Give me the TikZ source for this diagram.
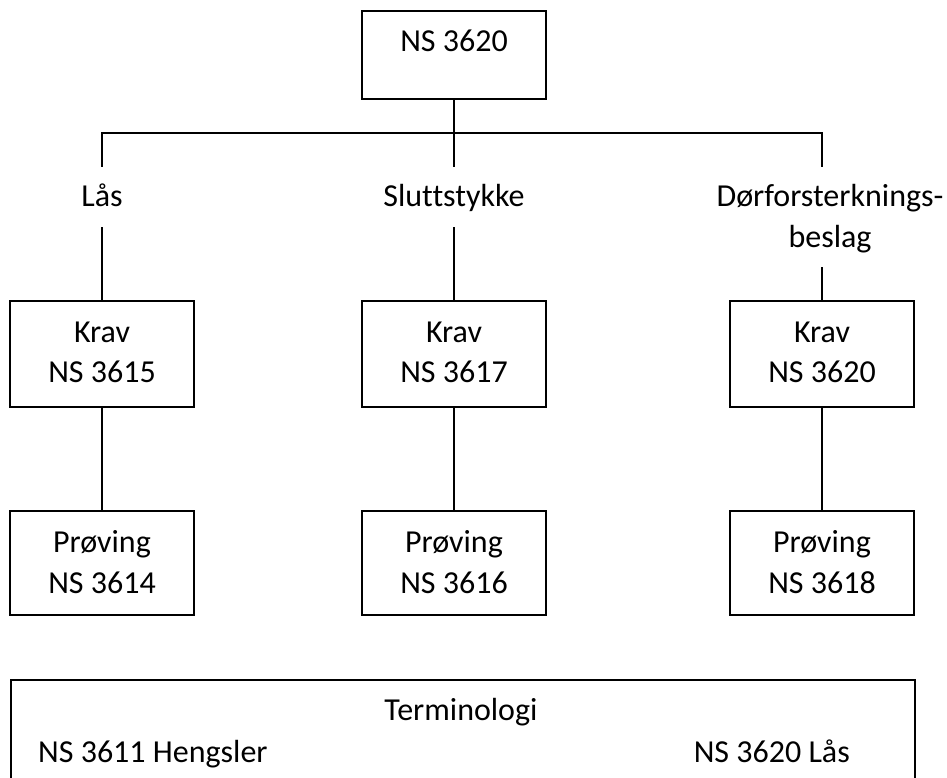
\documentclass[tikz,border=0pt]{standalone}
\usepackage{fontspec}
\setmainfont[Ligatures=NoCommon]{Carlito}
\begin{document}
\begin{tikzpicture}[x=1pt,y=-1pt,
  box/.style={draw=black,line width=1.5pt,rectangle,inner sep=0pt,minimum width=184pt},
  tbox/.style={box,minimum height=88pt},
  kbox/.style={box,minimum height=106pt},
  txt/.style={inner sep=0pt,anchor=base,font=\fontsize{32}{40}\selectfont},
  conn/.style={line width=1.4pt}]
\useasboundingbox (0,0) rectangle (947,778);
\clip (0,0) rectangle (947,778);
% top
\node[tbox] (top) at (454,55) {};
\node[txt] (toptxt) at (454,52) {NS 3620};
% column labels
\node[txt] (las) at (102,207) {Lås};
\node[txt] (slutt) at (454,207) {Sluttstykke};
\node[txt] (dor1) at (830,207) {Dørforsterknings-};
\node[txt] (dor2) at (830,247) {beslag};
% Krav boxes
\node[kbox] (k1) at (102,354) {};
\node[kbox] (k2) at (454,354) {};
\node[kbox] (k3) at (822,354) {};
\node[txt] (k1a) at (102,342) {Krav};
\node[txt] (k1b) at (102,382) {NS 3615};
\node[txt] (k2a) at (454,342) {Krav};
\node[txt] (k2b) at (454,382) {NS 3617};
\node[txt] (k3a) at (822,342) {Krav};
\node[txt] (k3b) at (822,382) {NS 3620};
% Proving boxes
\node[kbox,minimum height=104pt] (p1) at (102,563) {};
\node[kbox,minimum height=104pt] (p2) at (454,563) {};
\node[kbox,minimum height=104pt] (p3) at (822,563) {};
\node[txt] (p1a) at (102,552) {Prøving};
\node[txt] (p1b) at (102,593) {NS 3614};
\node[txt] (p2a) at (454,552) {Prøving};
\node[txt] (p2b) at (454,593) {NS 3616};
\node[txt] (p3a) at (822,552) {Prøving};
\node[txt] (p3b) at (822,593) {NS 3618};
% tree connectors
\coordinate (bar) at (454,133);
\coordinate (e1) at (102,167);
\coordinate (e2) at (454,167);
\coordinate (e3) at (822,167);
\coordinate (s1) at (102,227);
\coordinate (s2) at (454,227);
\coordinate (s3) at (822,267);
\draw[conn] (top.south) -- (e2);
\draw[conn] (e1) |- (bar) -| (e3);
\draw[conn] (s1) -- (k1.north);
\draw[conn] (s2) -- (k2.north);
\draw[conn] (s3) -- (k3.north);
\draw[conn] (k1.south) -- (p1.north);
\draw[conn] (k2.south) -- (p2.north);
\draw[conn] (k3.south) -- (p3.north);
% terminology box
\node[box,minimum width=904pt,minimum height=140pt,anchor=north west] (term) at (10,679) {};
\node[txt] (termtitle) at (461,720) {Terminologi};
\node[txt,anchor=base west] (hengsler) at (38,762) {NS 3611 Hengsler};
\node[txt,anchor=base east] (laas) at (850,762) {NS 3620 Lås};
\end{tikzpicture}
\end{document}
